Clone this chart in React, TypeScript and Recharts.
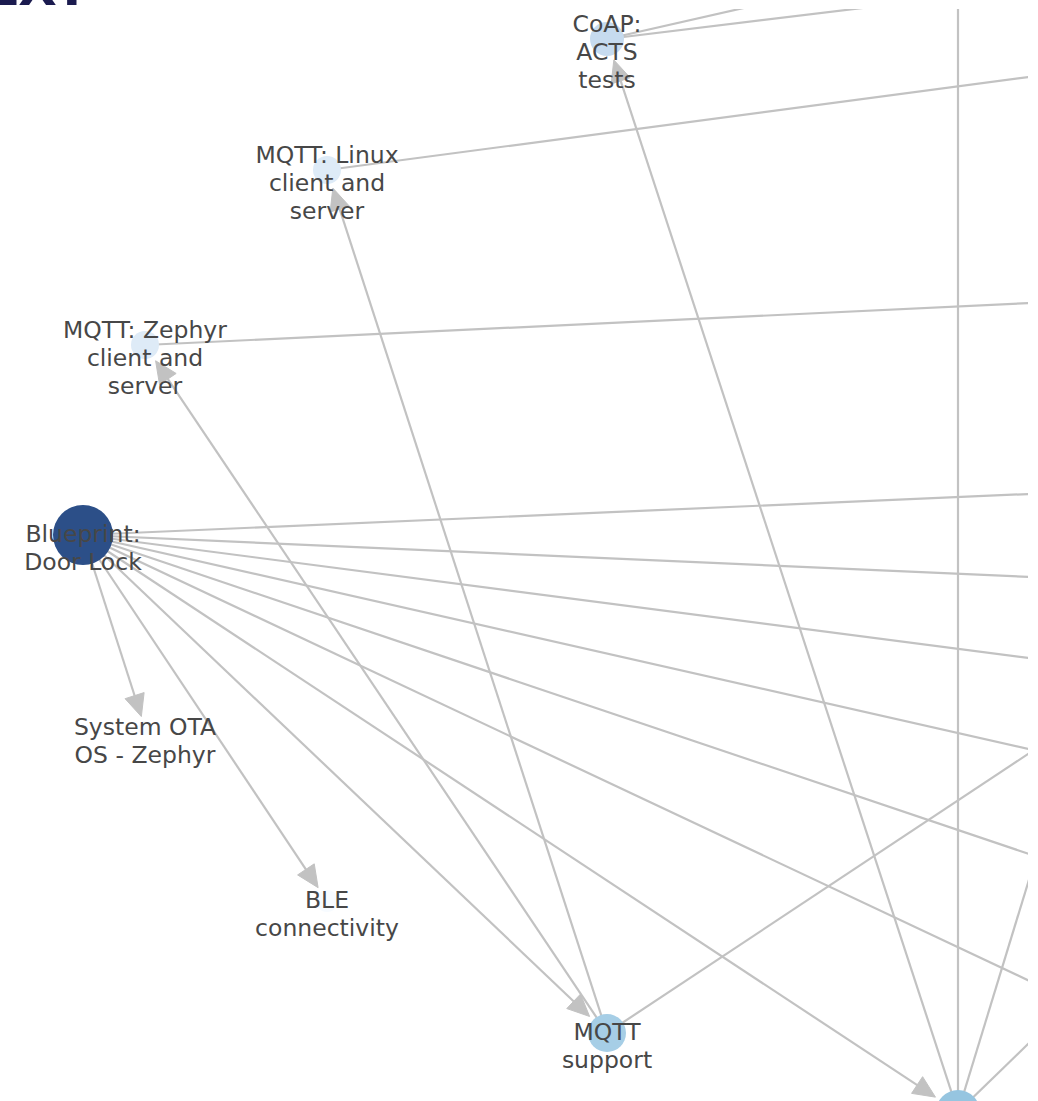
import React from 'react';
import { ScatterChart, Scatter, XAxis, YAxis } from 'recharts';

// ---- Graph data (layout coordinates, y grows downward) ----
const NODE_IDS = ['blueprint', 'coap', 'mqttLinux', 'mqttZephyr', 'mqttSupport', 'systemOta', 'ble', 'hub'];
const NODE_LABELS: string[][] = [
  ['Blueprint:', 'Door Lock'],
  ['CoAP:', 'ACTS', 'tests'],
  ['MQTT: Linux', 'client and', 'server'],
  ['MQTT: Zephyr', 'client and', 'server'],
  ['MQTT', 'support'],
  ['System OTA', 'OS - Zephyr'],
  ['BLE', 'connectivity'],
  [],
];
const NODE_X = [83, 607, 327, 145, 607, 145, 327, 958];
const NODE_Y = [535, 39, 170, 345, 1033, 728, 901, 1112];
const NODE_SIZE = [30, 17, 14, 14, 19, 7, 11, 22];
const NODE_COLOR = ['#2c4f88', '#c6dbef', '#deebf7', '#deebf7', '#a6cee6', '#f7fbff', '#f7fbff', '#96c5e0'];

// nodes lying outside the visible crop
const OFF_IDS = ['c1', 'c2', 'l1', 'z1', 'b1', 'b2', 'b3', 'b4', 'b5', 'b6', 's1', 'h1', 'h2', 'h3'];
const OFF_X = [867, 1093, 1097, 1115, 1121, 1121, 1121, 1121, 1121, 1121, 1111, 958, 1068, 1096];
const OFF_Y = [-20, -20, 68, 299, 490, 581, 670, 770, 885, 1024, 699, -40, 752, 978];

const EDGE_SOURCE = [
  'coap', 'coap', 'mqttLinux', 'mqttZephyr',
  'blueprint', 'blueprint', 'blueprint', 'blueprint', 'blueprint', 'blueprint',
  'blueprint', 'blueprint', 'blueprint', 'blueprint',
  'mqttSupport', 'mqttSupport', 'mqttSupport',
  'hub', 'hub', 'hub', 'hub',
];
const EDGE_TARGET = [
  'c1', 'c2', 'l1', 'z1',
  'b1', 'b2', 'b3', 'b4', 'b5', 'b6',
  'systemOta', 'ble', 'mqttSupport', 'hub',
  'mqttLinux', 'mqttZephyr', 's1',
  'coap', 'h1', 'h2', 'h3',
];

// ---- styles ----
const EDGE_COLOR = '#c2c2c2';
const HEAD_LEN = 22;
const HEAD_HALF = 10;
const LABEL_COLOR = '#474747';

type Pos = { x: number; y: number; r: number };
const positions: Record<string, Pos> = {};
NODE_IDS.forEach((id, i) => {
  positions[id] = { x: NODE_X[i], y: NODE_Y[i], r: NODE_SIZE[i] };
});
OFF_IDS.forEach((id, i) => {
  positions[id] = { x: OFF_X[i], y: OFF_Y[i], r: 10 };
});

const nodeData = NODE_IDS.map((id, i) => ({
  id,
  x: NODE_X[i],
  y: NODE_Y[i],
  r: NODE_SIZE[i],
  color: NODE_COLOR[i],
  lines: NODE_LABELS[i],
}));

const edgeData = EDGE_SOURCE.map((s, i) => {
  const a = positions[s];
  const b = positions[EDGE_TARGET[i]];
  return {
    key: `${s}-${EDGE_TARGET[i]}`,
    shrink: b.r + 5,
    points: [
      { x: a.x, y: a.y },
      { x: b.x, y: b.y },
    ],
  };
});

const makeEdgeLine = (shrink: number) => (props: any) => {
  const pts = props.points || [];
  if (pts.length < 2) return <g />;
  const a = pts[0];
  const b = pts[1];
  const dx = b.x - a.x;
  const dy = b.y - a.y;
  const len = Math.hypot(dx, dy) || 1;
  const ux = dx / len;
  const uy = dy / len;
  const tipX = b.x - ux * shrink;
  const tipY = b.y - uy * shrink;
  const baseX = tipX - ux * HEAD_LEN;
  const baseY = tipY - uy * HEAD_LEN;
  const px = -uy;
  const py = ux;
  const poly = `${tipX},${tipY} ${baseX + px * HEAD_HALF},${baseY + py * HEAD_HALF} ${baseX - px * HEAD_HALF},${baseY - py * HEAD_HALF}`;
  return (
    <g>
      <line
        x1={a.x}
        y1={a.y}
        x2={baseX + ux * 2}
        y2={baseY + uy * 2}
        stroke={EDGE_COLOR}
        strokeWidth={2.2}
        strokeLinecap="butt"
      />
      <polygon points={poly} fill={EDGE_COLOR} stroke={EDGE_COLOR} strokeWidth={1} strokeLinejoin="miter" />
    </g>
  );
};

const EmptyShape = () => <g />;

const NodeShape = (props: any) => {
  const { cx, cy, payload } = props;
  return <circle cx={cx} cy={cy} r={payload.r} fill={payload.color} />;
};

const LabelShape = (props: any) => {
  const { cx, cy, payload } = props;
  const lines: string[] = payload.lines || [];
  if (!lines.length) return <g />;
  const first = cy + 35 - 14 * lines.length;
  return (
    <text
      x={cx}
      y={first}
      textAnchor="middle"
      fontFamily="'DejaVu Sans', sans-serif"
      fontSize={23.5}
      fill={LABEL_COLOR}
    >
      {lines.map((ln, i) => (
        <tspan key={i} x={cx} y={first + 28 * i}>
          {ln}
        </tspan>
      ))}
    </text>
  );
};

export default function App() {
  return (
    <div style={{ position: 'absolute', left: 0, top: 0, width: 1038, height: 1101, background: '#ffffff', overflow: 'hidden' }}>
      <svg
        width={140}
        height={9}
        style={{ position: 'absolute', left: 0, top: 0, overflow: 'hidden' }}
      >
        <text x={-14} y={5} fontFamily="'DejaVu Sans', sans-serif" fontWeight="bold" fontSize={50} fill="#1b1b4f" letterSpacing={-2}>
          EXT
        </text>
      </svg>
      <div style={{ position: 'absolute', left: 0, top: 0 }}>
        <ScatterChart width={1038} height={1101} margin={{ top: 9, right: 10, bottom: 0, left: 0 }}>
          <XAxis type="number" dataKey="x" domain={[0, 1028]} hide allowDataOverflow />
          <YAxis type="number" dataKey="y" domain={[9, 1101]} reversed hide allowDataOverflow />
          {edgeData.map((e) => (
            <Scatter
              key={e.key}
              data={e.points}
              line={makeEdgeLine(e.shrink)}
              lineType="joint"
              shape={EmptyShape}
              fill={EDGE_COLOR}
              isAnimationActive={false}
            />
          ))}
          <Scatter data={nodeData} shape={NodeShape} isAnimationActive={false} />
          <Scatter data={nodeData} shape={LabelShape} isAnimationActive={false} />
        </ScatterChart>
      </div>
    </div>
  );
}
